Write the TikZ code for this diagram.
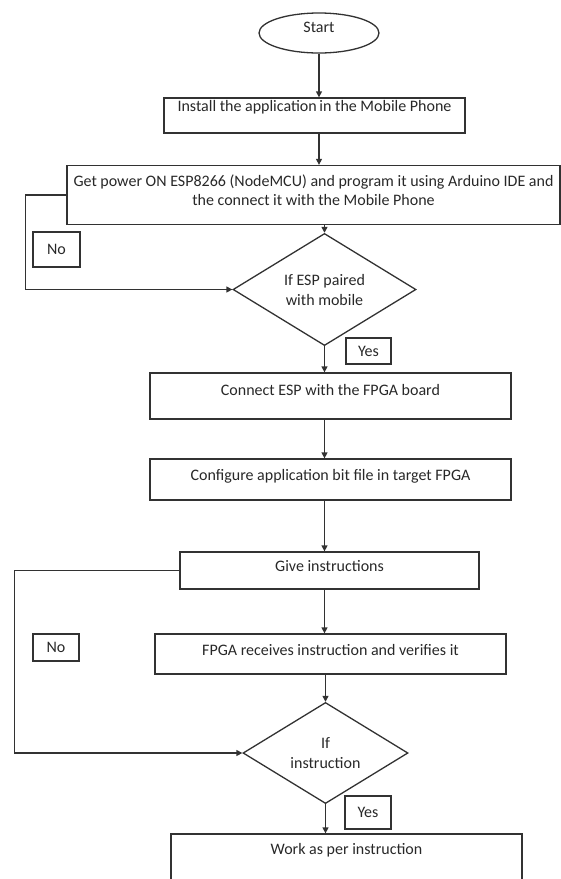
\documentclass[tikz,border=0pt]{standalone}
\usepackage{fontspec}
\setmainfont{Carlito}
\usetikzlibrary{shapes.geometric,arrows.meta,calc}
\definecolor{linec}{RGB}{50,50,50}
\definecolor{txtc}{RGB}{40,40,40}
\begin{document}
\begin{tikzpicture}[x=1pt,y=-1pt,
  ln/.style={draw=linec, line width=1.3pt},
  box/.style={ln, rectangle, inner sep=0pt},
  txt/.style={font=\fontsize{16}{19}\selectfont, text=txtc, align=center},
  lbl/.style={txt, anchor=north, inner sep=0pt},
  tag/.style={box, txt},
  dec/.style={ln, diamond, inner sep=0pt, txt, font=\fontsize{16}{20}\selectfont},
  arr/.style={draw=linec, line width=1.3pt, -{Triangle[length=6pt,width=6pt]}},
  ]
\useasboundingbox (0,0) rectangle (561,879);
\clip (0,0) rectangle (561,879);

\node[ln, ellipse, minimum width=120pt, minimum height=40pt, inner sep=0pt,
      label={[txt, yshift=6pt]center:Start}] (s) at (319,33) {};

\node[box, minimum width=301pt, minimum height=35pt,
      label={[lbl, yshift=-3pt]north:Install the application\,in the Mobile Phone}] (b1) at (314.5,115.5) {};

\node[box, minimum width=493pt, minimum height=59pt,
      label={[lbl, yshift=-10pt]north:Get power ON ESP8266 (NodeMCU) and program it using Arduino IDE and\\the connect it with the Mobile Phone}] (b2) at (313.5,195) {};

\node[dec, minimum width=183pt, minimum height=87pt] (d1) at (324.5,289.5) {If ESP paired\\with mobile};

\node[tag, minimum width=47pt, minimum height=35pt] (n1) at (56.5,249.5) {No};
\node[tag, minimum width=45pt, minimum height=26pt] (y1) at (368.5,351) {Yes};

\node[box, minimum width=361pt, minimum height=46pt,
      label={[lbl, yshift=-11.5pt]north:Connect ESP with the FPGA board}] (b3) at (330.5,396) {};

\node[box, minimum width=361pt, minimum height=41pt,
      label={[lbl, yshift=-10.5pt]north:Configure application bit file in target FPGA}] (b4) at (330.5,479.5) {};

\node[box, minimum width=299pt, minimum height=37pt,
      label={[lbl, yshift=-8.5pt]north:Give instructions}] (b5) at (329.5,570.5) {};

\node[box, minimum width=351pt, minimum height=40pt,
      label={[lbl, yshift=-10.5pt]north:FPGA receives instruction and verifies it}] (b6) at (330.5,654) {};

\node[tag, minimum width=46pt, minimum height=27pt] (n2) at (56,647.5) {No};

\node[dec, minimum width=165pt, minimum height=84pt] (d2) at (325.5,753) {If\\instruction};

\node[tag, minimum width=46pt, minimum height=33pt] (y2) at (368,812.5) {Yes};

\node[box, minimum width=351pt, minimum height=100pt,
      label={[lbl, yshift=-9.5pt]north:Work as per instruction}] (b7) at (346.5,884) {};

% connectors
\draw[arr] (s.south) -- (s.south |- b1.north);
\draw[arr] (s.south |- b1.south) -- (s.south |- b2.north);
\draw[arr] (d1.north |- b2.south) -- (d1.north);
\draw[arr] (d1.south) -- (d1.south |- b3.north);
\draw[arr] (d1.south |- b3.south) -- (d1.south |- b4.north);
\draw[arr] (d1.south |- b4.south) -- (d1.south |- b5.north);
\draw[arr] (d1.south |- b5.south) -- (d1.south |- b6.north);
\draw[arr] (d2.north |- b6.south) -- (d2.north);
\draw[arr] (d2.south) -- (d2.south |- b7.north);
\draw[arr] (b2.west) -- ++(-41,0) |- (d1.west);
\draw[arr] (b5.west) -- ++(-165,0) |- (d2.west);
\end{tikzpicture}
\end{document}
